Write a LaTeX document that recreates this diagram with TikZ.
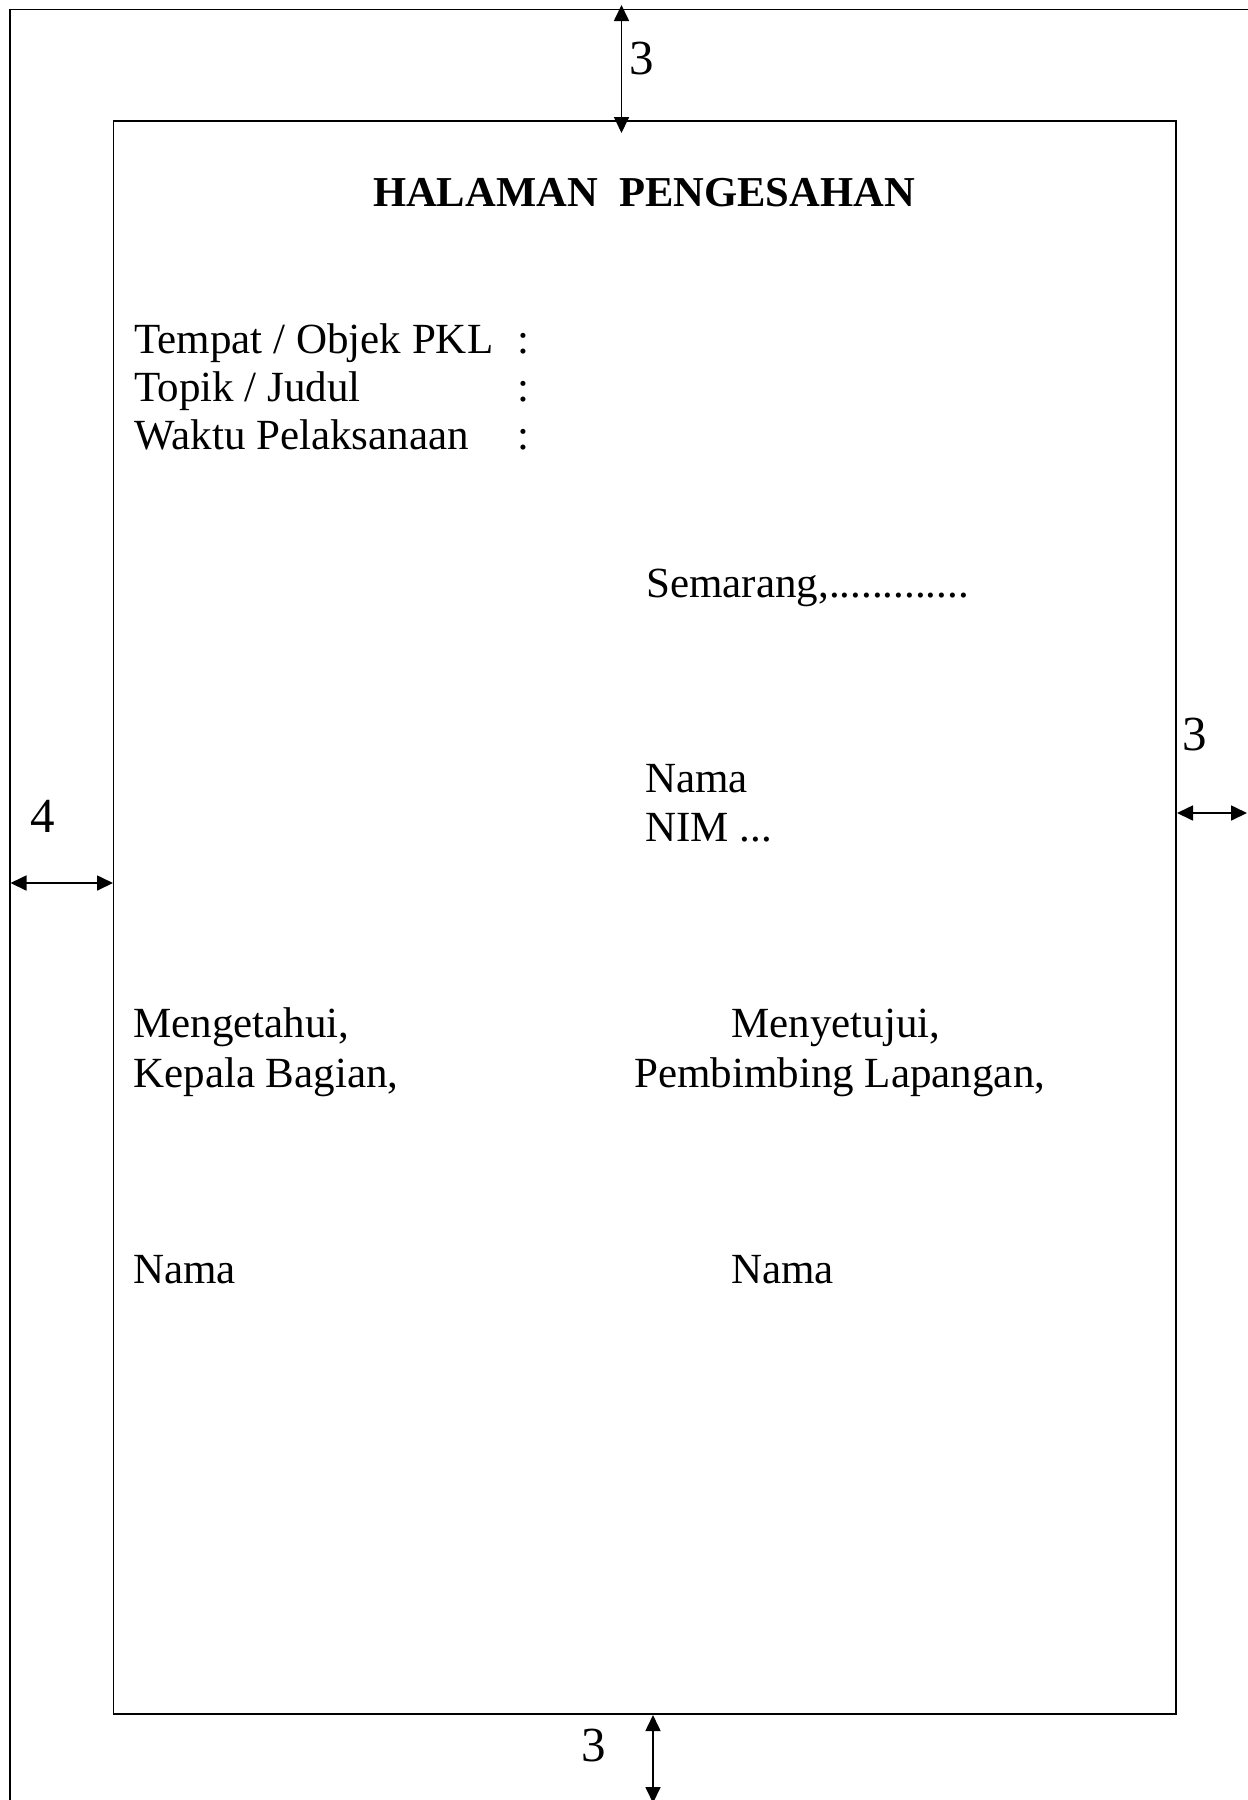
\documentclass[tikz,border=0pt]{standalone}
\usepackage{fontspec}
\setmainfont{Liberation Serif}
\usetikzlibrary{arrows.meta}
\tikzset{
  txt/.style={anchor=base west,inner sep=0pt,font=\fontsize{21.5}{26}\selectfont},
  num/.style={inner sep=0pt,font=\fontsize{24.5}{29}\selectfont},
  dim/.style={{Triangle[length=8pt,width=7.5pt]}-{Triangle[length=8pt,width=7.5pt]},line width=0.85pt},
  frame/.style={line width=0.9pt},
}
\begin{document}
\begin{tikzpicture}[x=0.5pt,y=-0.5pt]
    \useasboundingbox (0,0) rectangle (1248,1800);
    \coordinate (page-ne) at (1260,9.5);
    \coordinate (page-nw) at (10,9.5);
    \coordinate (page-sw) at (10,1810);
    \coordinate (marg-nw) at (113.5,121);
    \coordinate (marg-se) at (1176,1714);
    \draw[frame] (page-ne) -- (page-nw) -- (page-sw);
    \draw[frame] (marg-nw) rectangle (marg-se);

    \coordinate (top-a) at (621.5,5);
    \coordinate (top-b) at (621.5,133);
    \coordinate (left-a) at (10.5,883);
    \coordinate (left-b) at (113,883);
    \coordinate (right-a) at (1177,813);
    \coordinate (right-b) at (1247,813);
    \coordinate (bot-a) at (653,1715);
    \coordinate (bot-b) at (653,1803);
    \draw[dim] (top-a) -- (top-b);
    \draw[dim] (left-a) -- (left-b);
    \draw[dim] (right-a) -- (right-b);
    \draw[dim] (bot-a) -- (bot-b);
    \node[num] (top-num) at (642,59) {3};
    \node[num] (left-num) at (43,816) {4};
    \node[num] (right-num) at (1195,735) {3};
    \node[num] (bot-num) at (594,1745) {3};

    \node[txt,anchor=base,font=\fontsize{21.3}{26}\selectfont\bfseries] (judul) at (644,206) {HALAMAN\ \ PENGESAHAN};
    \node[txt] (tempat) at (134,353) {Tempat / Objek PKL};
    \node[txt] (topik) at (134,401) {Topik / Judul};
    \node[txt] (waktu) at (134,449) {Waktu Pelaksanaan};
    \node[txt] (c1) at (517,353) {:};
    \node[txt] (c2) at (517,401) {:};
    \node[txt] (c3) at (517,449) {:};
    \node[txt] (kota) at (646,597) {Semarang,.............};
    \node[txt] (nama-mhs) at (645,792) {Nama};
    \node[txt] (nim) at (645,841) {NIM ...};
    \node[txt] (tahu) at (133,1037) {Mengetahui,};
    \node[txt] (kabag) at (133,1087) {Kepala Bagian,};
    \node[txt] (setuju) at (731,1037) {Menyetujui,};
    \node[txt] (pemb) at (634,1087) {Pembimbing Lapangan,};
    \node[txt] (nama-kabag) at (133,1283) {Nama};
    \node[txt] (nama-pemb) at (731,1283) {Nama};
\end{tikzpicture}
\end{document}
